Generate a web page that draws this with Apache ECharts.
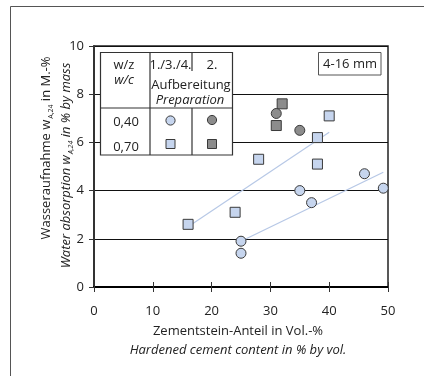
<!DOCTYPE html>
<html>
<head>
<meta charset="utf-8">
<script src="https://cdn.jsdelivr.net/npm/echarts@6/dist/echarts.min.js"></script>
<style>
  html, body { margin: 0; padding: 0; background: #fff; }
  #chart { width: 424px; height: 376px; }
</style>
</head>
<body>
<div id="chart"></div>
<script>
// Water absorption of recycled aggregate (4-16 mm) vs. hardened cement content
const xTicks = [0, 10, 20, 30, 40, 50];
const yTicks = [0, 2, 4, 6, 8, 10];

// w/c 0.40, preparation 1./3./4.
const wc040prep134 = [[25, 1.9], [25, 1.4], [35, 4.0], [37, 3.5], [46, 4.7], [49.2, 4.1]];
// w/c 0.70, preparation 1./3./4.
const wc070prep134 = [[16, 2.6], [24, 3.1], [28, 5.3], [38, 6.2], [38, 5.1], [40, 7.1]];
// w/c 0.40, preparation 2.
const wc040prep2 = [[31, 7.2], [35, 6.5]];
// w/c 0.70, preparation 2.
const wc070prep2 = [[32, 7.6], [31, 6.7]];

// regression lines (start, end)
const trend070 = [[16, 2.5], [40, 6.42]];
const trend040 = [[25, 1.9], [49.2, 4.76]];

const FONT = 'Open Sans';
const lightFill = '#c6d5ee';
const darkFill = '#8c8c8c';
const markBorder = '#3a3a3a';
const trendColor = '#b7c8e6';

const chart = echarts.init(document.getElementById('chart'), null, { renderer: 'canvas' });

function scatter(name, data, symbol, fill) {
  return {
    name, type: 'scatter', data, symbol,
    symbolSize: 10,
    itemStyle: { color: fill, borderColor: markBorder, borderWidth: 1, opacity: 1 },
    z: 5
  };
}

const textStyle = (t, x, y, opts = {}) => ({
  type: 'text', x, y, z: 20,
  style: Object.assign({
    text: t, font: `13px "${FONT}"`, fill: '#222',
    align: 'center', verticalAlign: 'middle'
  }, opts)
});

const lineEl = (x1, y1, x2, y2, w = 1.2, c = '#333') => ({
  type: 'line', z: 19,
  shape: { x1, y1, x2, y2 },
  style: { stroke: c, lineWidth: w }
});

const sub = { fontSize: 7, fontFamily: FONT, verticalAlign: 'bottom', lineHeight: 16, padding: [0, 0, 0, 1] };

chart.setOption({
  animation: false,
  backgroundColor: '#fff',
  grid: {
    left: 94, right: 36, top: 46, bottom: 89,
    show: true, borderColor: '#222', borderWidth: 1.5, backgroundColor: 'transparent'
  },
  xAxis: [{
    type: 'value', min: xTicks[0], max: xTicks[xTicks.length - 1], interval: 10,
    axisLine: { show: true, onZero: false, lineStyle: { color: '#000', width: 2.2 } },
    axisTick: { show: true, inside: false, length: 5, lineStyle: { color: '#333', width: 1 } },
    axisLabel: { margin: 18, fontSize: 13, fontFamily: FONT, color: '#222' },
    splitLine: { show: false }
  }, {
    type: 'value', min: xTicks[0], max: xTicks[xTicks.length - 1], interval: 10,
    position: 'bottom',
    axisLine: { show: false },
    axisTick: { show: true, inside: true, length: 5, lineStyle: { color: '#333', width: 1 } },
    axisLabel: { show: false },
    splitLine: { show: false }
  }],
  yAxis: {
    type: 'value', min: yTicks[0], max: yTicks[yTicks.length - 1], interval: 2,
    axisLine: { show: true, onZero: false, lineStyle: { color: '#333', width: 2 } },
    axisTick: { show: true, inside: false, length: 5, lineStyle: { color: '#333', width: 1 } },
    axisLabel: { margin: 10, fontSize: 13, fontFamily: FONT, color: '#222' },
    splitLine: { show: true, lineStyle: { color: '#111', width: 1 } }
  },
  series: [
    { type: 'line', data: trend070, symbol: 'none', lineStyle: { color: trendColor, width: 1.2 }, z: 3 },
    { type: 'line', data: trend040, symbol: 'none', lineStyle: { color: trendColor, width: 1.2 }, z: 3 },
    scatter('0,70 · 1./3./4.', wc070prep134, 'rect', lightFill),
    scatter('0,70 · 2.', wc070prep2, 'rect', darkFill),
    scatter('0,40 · 1./3./4.', wc040prep134, 'circle', lightFill),
    scatter('0,40 · 2.', wc040prep2, 'circle', darkFill)
  ],
  graphic: [
    // outer frame
    { type: 'polyline', z: 1, shape: { points: [[10.5, 376], [10.5, 6.5], [424, 6.5]] },
      style: { stroke: '#555', lineWidth: 1, fill: null } },

    // key table
    { type: 'rect', z: 18, shape: { x: 100.5, y: 52.5, width: 132, height: 102.5 },
      style: { fill: '#fff', stroke: '#333', lineWidth: 1.2 } },
    lineEl(100.5, 108, 232.5, 108),
    lineEl(150, 52.5, 150, 155),
    lineEl(192, 52.5, 192, 71),
    lineEl(192, 108, 192, 155),
    textStyle('w/z', 124, 65),
    textStyle('w/c', 124, 80, { font: `italic 13px "${FONT}"` }),
    textStyle('1./3./4.', 170.5, 65),
    textStyle('2.', 212, 65),
    textStyle('Aufbereitung', 191, 85),
    textStyle('Preparation', 190, 100, { font: `italic 13px "${FONT}"` }),
    textStyle('0,40', 126, 122),
    textStyle('0,70', 126, 147),
    { type: 'circle', z: 20, shape: { cx: 170.5, cy: 120.5, r: 4.6 },
      style: { fill: lightFill, stroke: markBorder, lineWidth: 1 } },
    { type: 'circle', z: 20, shape: { cx: 212, cy: 120, r: 4.6 },
      style: { fill: darkFill, stroke: markBorder, lineWidth: 1 } },
    { type: 'rect', z: 20, shape: { x: 166, y: 139.5, width: 9, height: 9 },
      style: { fill: lightFill, stroke: markBorder, lineWidth: 1 } },
    { type: 'rect', z: 20, shape: { x: 207.5, y: 139.5, width: 9, height: 9 },
      style: { fill: darkFill, stroke: markBorder, lineWidth: 1 } },

    // size class box
    { type: 'rect', z: 18, shape: { x: 318.5, y: 52.5, width: 62.5, height: 22.5 },
      style: { fill: '#fff', stroke: '#555', lineWidth: 1 } },
    textStyle('4-16 mm', 350, 64.5),

    // x-axis title
    textStyle('Zementstein-Anteil in Vol.-%', 238, 331.5),
    textStyle('Hardened cement content in % by vol.', 238, 350.5, { font: `italic 13px "${FONT}"` }),

    // y-axis title (two lines, rotated)
    { type: 'text', z: 20, x: 46.5, y: 148, rotation: Math.PI / 2,
      style: {
        text: '{a|Wasseraufnahme w}{s|A,24}{a| in M.-%}',
        align: 'center', verticalAlign: 'middle', fill: '#222',
        rich: { a: { fontSize: 13, fontFamily: FONT, lineHeight: 16 }, s: sub }
      } },
    { type: 'text', z: 20, x: 66.5, y: 165.5, rotation: Math.PI / 2,
      style: {
        text: '{a|Water absorption w}{s|A,24}{a| in % by mass}',
        align: 'center', verticalAlign: 'middle', fill: '#222',
        rich: { a: { fontSize: 13, fontFamily: FONT, fontStyle: 'italic', lineHeight: 16 },
                s: Object.assign({}, sub, { fontStyle: 'italic' }) }
      } }
  ]
});
</script>
</body>
</html>
